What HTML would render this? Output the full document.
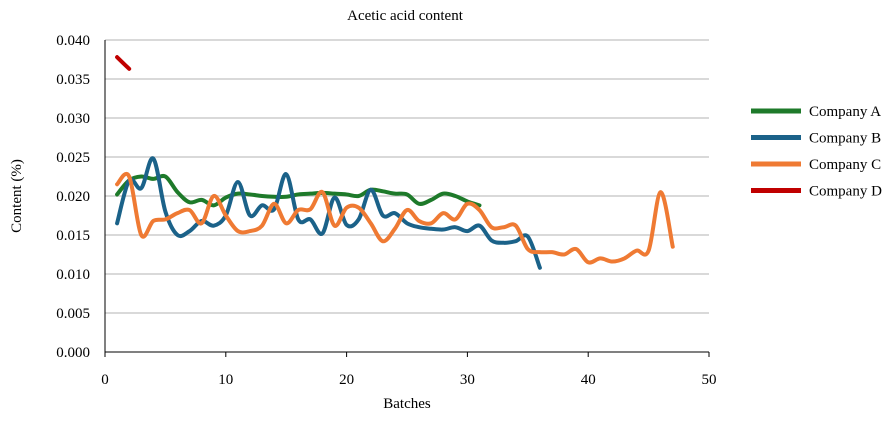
<!DOCTYPE html>
<html><head><meta charset="utf-8"><style>
body{margin:0;background:#fff;font-family:"Liberation Serif",serif;}
</style></head><body>
<svg id="chart" width="895" height="416" xmlns="http://www.w3.org/2000/svg" font-family="Liberation Serif, serif">
<text x="405" y="20" text-anchor="middle" font-size="15">Acetic acid content</text>
<text transform="translate(21,196) rotate(-90)" text-anchor="middle" font-size="15">Content (%)</text>
<text x="407" y="408" text-anchor="middle" font-size="15">Batches</text>
<g id="grid"></g><g id="series"></g><g id="legend"></g>
</svg>
<script>
const companies=["Company A","Company B","Company C","Company D"];
const colors=["#1e7a2a","#1b6289","#ef7a33","#c00000"];
const seriesA=[0.0202,0.0220,0.0225,0.0222,0.0225,0.0205,0.0192,0.0195,0.0188,0.0198,0.0203,0.0202,0.0200,0.0199,0.0199,0.0202,0.0203,0.0204,0.0203,0.0202,0.0200,0.0208,0.0206,0.0203,0.0202,0.0190,0.0195,0.0203,0.0200,0.0193,0.0188];
const seriesB=[0.0165,0.0220,0.0210,0.0248,0.0180,0.0150,0.0155,0.0168,0.0162,0.0175,0.0218,0.0175,0.0188,0.0183,0.0228,0.0170,0.0170,0.0152,0.0198,0.0163,0.0170,0.0208,0.0175,0.0178,0.0165,0.0160,0.0158,0.0157,0.0160,0.0155,0.0162,0.0143,0.0140,0.0142,0.0148,0.0108];
const seriesC=[0.0215,0.0225,0.0150,0.0168,0.0170,0.0178,0.0182,0.0165,0.0200,0.0175,0.0155,0.0155,0.0162,0.0190,0.0165,0.0182,0.0183,0.0205,0.0162,0.0185,0.0185,0.0165,0.0142,0.0158,0.0182,0.0168,0.0165,0.0178,0.0170,0.0190,0.0182,0.0160,0.0160,0.0162,0.0132,0.0128,0.0128,0.0125,0.0132,0.0115,0.0120,0.0116,0.0120,0.0130,0.0130,0.0205,0.0135];
const seriesD=[0.0378,0.0363];
const yTicks=["0.000","0.005","0.010","0.015","0.020","0.025","0.030","0.035","0.040"];
const xTicks=[0,10,20,30,40,50];
const NS="http://www.w3.org/2000/svg";
const X=v=>105+(v/50)*604;
const Y=v=>352-(v/0.04)*312;
function mk(t,a,p){const e=document.createElementNS(NS,t);for(const k in a)e.setAttribute(k,a[k]);p.appendChild(e);return e;}
const grid=document.getElementById('grid');
yTicks.forEach(t=>{const v=parseFloat(t);const y=Y(v);
 const l=mk('line',{x1:105,x2:709,y1:y,y2:y,stroke:v===0?'#000':'#d9d9d9','stroke-width':v===0?1:2},grid);
 
 
 const tx=mk('text',{x:90,y:y+5,'text-anchor':'end','font-size':15},grid);tx.textContent=t;
 
 
});
const ax=mk('line',{x1:105,x2:105,y1:40,y2:352,stroke:'#000','stroke-width':1},grid);


xTicks.forEach(t=>{const x=X(t);
 const tk=mk('line',{x1:x,x2:x,y1:352,y2:357,stroke:'#000'},grid);
 
 
 const tx=mk('text',{x:x,y:384,'text-anchor':'middle','font-size':15},grid);tx.textContent=t;
 
 
});
function path(vals){const p=vals.map((v,i)=>[X(i+1),Y(v)]);let d=`M${p[0][0]},${p[0][1]}`;
 for(let i=0;i<p.length-1;i++){const p0=p[i-1]||p[i],p1=p[i],p2=p[i+1],p3=p[i+2]||p2;
  const c1=[p1[0]+(p2[0]-p0[0])/6,p1[1]+(p2[1]-p0[1])/6],c2=[p2[0]-(p3[0]-p1[0])/6,p2[1]-(p3[1]-p1[1])/6];
  d+=` C${c1[0]},${c1[1]} ${c2[0]},${c2[1]} ${p2[0]},${p2[1]}`;}return d;}
const sg=document.getElementById('series');
const all=[seriesA,seriesB,seriesC,seriesD];
const names=['series-company-a','series-company-b','series-company-c','series-company-d'];
all.forEach((s,i)=>{const e=mk('path',{d:path(s),fill:'none',stroke:colors[i],'stroke-width':4,'stroke-linecap':'round','stroke-linejoin':'round'},sg);
 
 
});
const lg=document.getElementById('legend');
companies.forEach((c,i)=>{const y=111+i*26.5;
 const g=mk('g',{},lg);
 
 
 mk('line',{x1:751,x2:801,y1:y,y2:y,stroke:colors[i],'stroke-width':5},g);
 const t=mk('text',{x:809,y:y+5,'font-size':15},g);t.textContent=c;
});
</script>
</body></html>
